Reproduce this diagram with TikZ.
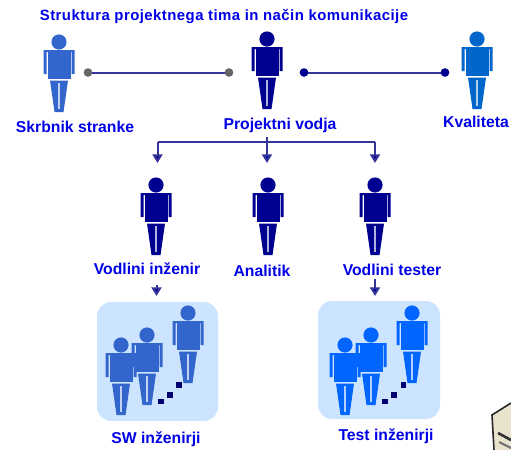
\documentclass[tikz,border=0pt]{standalone}
\usepackage{fontspec}
\setmainfont{Liberation Sans}
\usetikzlibrary{arrows.meta}

\definecolor{navyp}{HTML}{000090}
\definecolor{bluep}{HTML}{3366CC}
\definecolor{kvalp}{HTML}{0066CC}
\definecolor{testp}{HTML}{0066FF}
\definecolor{panelc}{HTML}{CCE4FF}
\definecolor{linec}{HTML}{333399}
\definecolor{textc}{HTML}{0000E6}
\definecolor{serverc}{HTML}{E9E2CC}

\tikzstyle{lab} = [text=textc, font=\fontsize{11.8}{13}\bfseries, inner sep=0pt]
\tikzstyle{title} = [text=textc, font=\fontsize{11.2}{13}\bfseries, inner sep=0pt]
\tikzstyle{panel} = [fill=panelc, rounded corners=10.5pt]
\tikzstyle{link} = [draw=linec, line width=1.5pt]
\tikzstyle{feed} = [draw=linec, line width=1.5pt, -{Triangle[length=6.5pt,width=7.5pt,fill=navyp]}]
\tikzstyle{dotg} = [circle, fill=black!60, minimum size=6.5pt, inner sep=0pt, outer sep=0pt]
\tikzstyle{dotn} = [circle, fill=navyp, minimum size=6.5pt, inner sep=0pt, outer sep=0pt]
\tikzstyle{sq} = [rectangle, fill=navyp!80!black, minimum size=4pt, inner sep=0pt]

\tikzset{person/.pic={
  \fill [#1] (0,0) circle (7.6);
  \fill [#1] (-11.5,8) rectangle (11.5,37);
  \fill [#1] (-15.5,8) -- (15.5,8) -- (15.5,32) -- (12.5,32) -- (12.5,10) -- (-12.5,10) -- (-12.5,32) -- (-15.5,32) -- cycle;
  \fill [#1] (-9,38.5) -- (9,38.5) -- (4.5,70) -- (-4.5,70) -- cycle;
  \fill [white!70!#1] (-0.7,41) rectangle (0.7,67);
}}

\begin{document}
\begin{tikzpicture}[x=0.75pt, y=-0.75pt]
\useasboundingbox (0,0) rectangle (511,450);

\node [title] (naslov) at (224,17) {\addfontfeature{LetterSpace=3}Struktura projektnega tima in način komunikacije};

% zgornja vrsta
\pic at (59,42) {person=bluep};
\pic at (267,39) {person=navyp};
\pic at (477,39) {person=kvalp};
\node [lab] (skrbnik) at (75,127) {Skrbnik stranke};
\node [lab] (vodja) at (280,125) {Projektni vodja};
\node [lab] (kvaliteta) at (476,122) {Kvaliteta};

\node [dotg] (s1) at (88,72.5) {};
\node [dotg] (s2) at (229,72.5) {};
\node [dotn] (k1) at (304,72.5) {};
\node [dotn] (k2) at (445,72.5) {};
\draw [link] (s1) -- (s2);
\draw [link] (k1) -- (k2);

% srednja vrsta
\pic at (156,185) {person=navyp};
\pic at (268,185) {person=navyp};
\pic at (375,185) {person=navyp};
\node [lab] (inzenir) at (147,269) {Vodlini inženir};
\node [lab] (analitik) at (262,271) {Analitik};
\node [lab] (tester) at (392,270) {Vodlini tester};

\coordinate (vrh) at (267,137);
\coordinate (levo) at (157.5,141.5);
\coordinate (desno) at (375,141.5);
\coordinate (c1) at (157.5,163);
\coordinate (c2) at (267,163);
\coordinate (c3) at (375,163);
\draw [link] (levo) -- (desno);
\draw [feed] (vrh) -- (c2);
\draw [feed] (levo) -- (c1);
\draw [feed] (desno) -- (c3);

\coordinate (p1) at (156.5,285);
\coordinate (p2) at (156.5,296);
\coordinate (q1) at (375,279);
\coordinate (q2) at (375,296);
\draw [feed] (p1) -- (p2);
\draw [feed] (q1) -- (q2);

% skupini
\fill [panel] (97,302) rectangle (218,421);
\fill [panel] (318,301) rectangle (440,419);

\pic at (121,345) {person=bluep};
\pic at (147,335) {person=bluep};
\pic at (188,313) {person=bluep};
\node [sq] (a1) at (161,401.5) {};
\node [sq] (a2) at (170,395) {};
\node [sq] (a3) at (179,385) {};

\pic at (345,345) {person=testp};
\pic at (371,335) {person=testp};
\pic at (412,313) {person=testp};
\node [sq] (b1) at (385,401.5) {};
\node [sq] (b2) at (394,395) {};
\node [sq] (b3) at (403.5,385) {};

\node [lab] (sw) at (156,439) {SW inženirji};
\node [lab] (test) at (386,436) {Test inženirji};

% streznik v kotu
\fill [serverc] (492,415) -- (511,403) -- (511,450) -- (494,450) -- cycle;
\draw [line width=1.2pt, black!85] (494,450) -- (492,415) -- (511,403);
\draw [line width=2pt, black!80] (498,433) -- (511,440);
\draw [line width=1.6pt, black!55] (499,442) -- (511,448);
\end{tikzpicture}
\end{document}
